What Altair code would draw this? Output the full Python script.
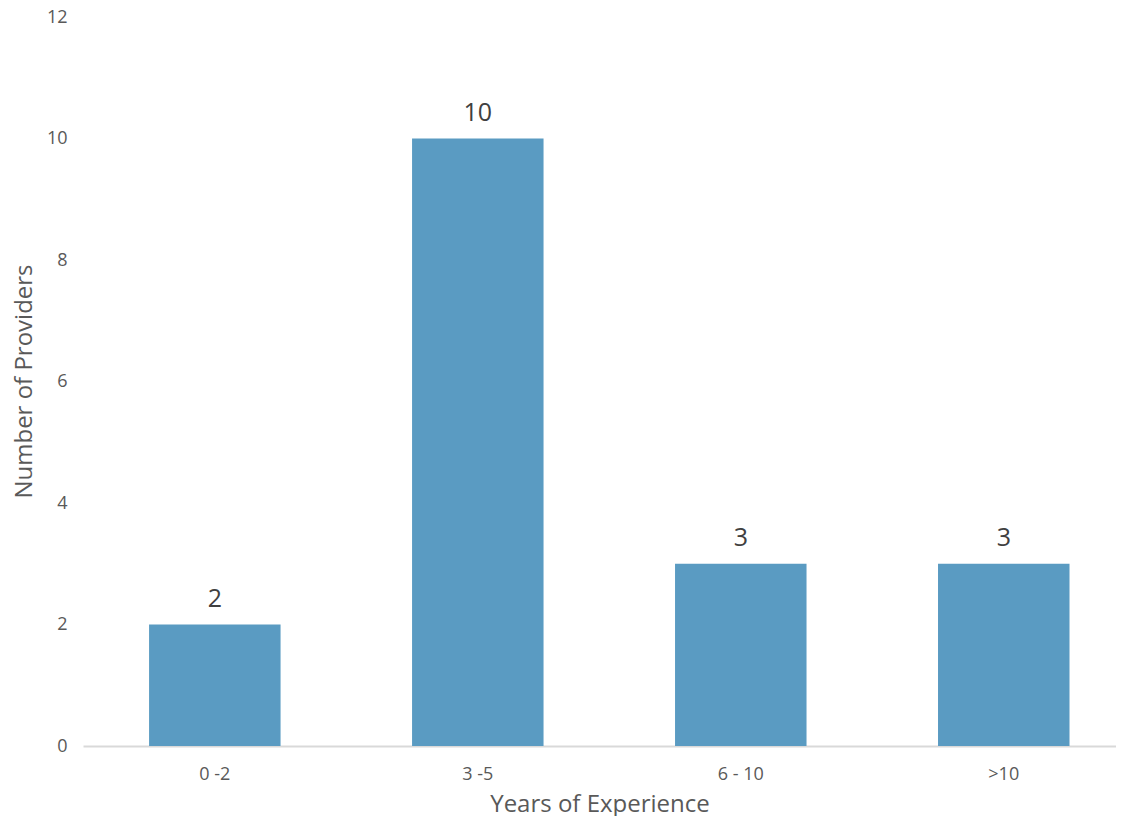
import altair as alt
import pandas as pd

categories = ["0 -2", "3 -5", "6 - 10", ">10"]
values = [2, 10, 3, 3]

df = pd.DataFrame({"cat": categories, "val": values})

FONT = "Open Sans"

x = alt.X("cat:N", sort=categories,
          scale=alt.Scale(paddingInner=0.5, paddingOuter=0.214, align=0.587),
          axis=alt.Axis(title="Years of Experience", labelAngle=0, labelFontSize=18,
                        labelColor="#595959", labelFont=FONT, labelPadding=19,
                        titleFont=FONT, titleFontSize=24, titleColor="#595959",
                        titleFontWeight="normal", titlePadding=9,
                        ticks=False, domainColor="#d9d9d9", domainWidth=2))
y = alt.Y("val:Q", scale=alt.Scale(domain=[0, 12], nice=False),
          axis=alt.Axis(title="Number of Providers", values=[0, 2, 4, 6, 8, 10, 12],
                        labelFontSize=18, labelColor="#595959", labelFont=FONT,
                        labelPadding=16, ticks=False, domain=False, grid=False,
                        titleFont=FONT, titleFontSize=24, titleColor="#595959",
                        titleFontWeight="normal", titleX=-59, titleY=364,
                        titleAlign="center", titleBaseline="middle", titleAngle=270))

bars = alt.Chart(df).mark_bar(color="#5A9BC2").encode(x=x, y=y)
text = alt.Chart(df).mark_text(dy=-26, fontSize=25, font=FONT, color="#404040").encode(
    x=x, y=y, text="val:Q")

chart = (bars + text).properties(
    width=1033, height=729,
    padding={"left": 75, "top": 9, "right": 0, "bottom": 70},
    autosize=alt.AutoSizeParams(type="none"),
).configure_view(stroke=None)

chart.save("out.html", embed_options={"renderer": "svg", "actions": False})
